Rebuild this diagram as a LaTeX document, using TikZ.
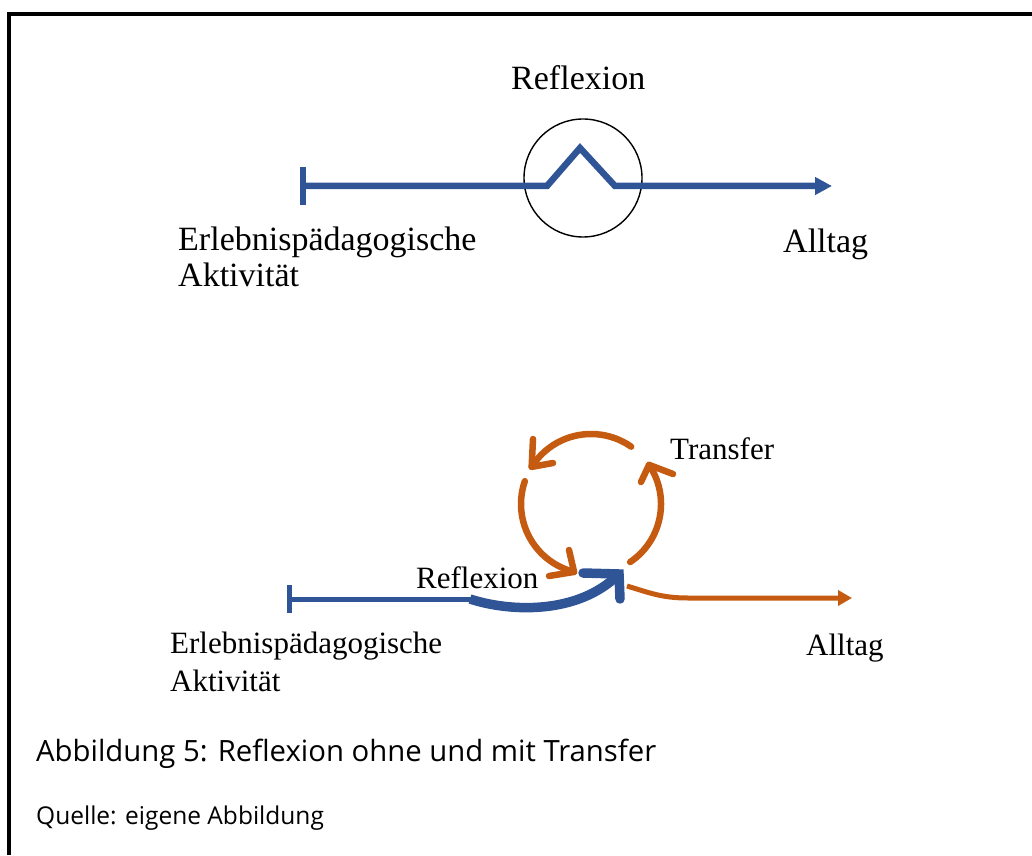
\documentclass[tikz,border=0pt]{standalone}
\usepackage{fontspec}
\setmainfont{Liberation Serif}
\newfontfamily\capfont{Open Sans}
\usetikzlibrary{arrows.meta,calc}
\definecolor{dblue}{RGB}{47,85,151}
\definecolor{dorange}{RGB}{197,90,17}
\begin{document}
\begin{tikzpicture}[x=1pt,y=1pt,
  lbl/.style={inner sep=0pt, anchor=base west, font=\fontsize{34}{40}\selectfont},
  lbls/.style={inner sep=0pt, anchor=base west, font=\fontsize{31}{36}\selectfont},
  bline/.style={draw=dblue, line width=6.5pt},
  bthin/.style={draw=dblue, line width=5pt},
  oarc/.style={draw=dorange, line width=6.5pt, line cap=round},
  ohead/.style={draw=dorange, line width=6.5pt, line cap=round, line join=round},
  bhead/.style={draw=dblue, line width=9.5pt, line cap=round, line join=miter},
  oline/.style={draw=dorange, line width=5pt},
  filltip/.style={-{Triangle[length=17pt,width=17pt]}}]
\useasboundingbox (0,0) rectangle (1032,855);
% frame
\coordinate (fb) at (9.3,0);
\coordinate (fc) at (9.3,841.3);
\coordinate (fr) at (1032,841.3);
\draw[line width=4pt] (fb) -- (fc) -- (fr);

% ---------- top diagram ----------
\coordinate (tb1) at (303,688);
\coordinate (tb2) at (303,650);
\coordinate (t0) at (303,669);
\coordinate (k1) at (547,669);
\coordinate (pk) at (580,707);
\coordinate (k2) at (615,669);
\coordinate (tend) at (832,669);
\node[circle, draw, line width=1.4pt, minimum size=118pt, inner sep=0pt] (ring) at (583,677) {};
\draw[bline] (tb1) -- (tb2);
\draw[bline, filltip] (t0) -- (k1) -- (pk) -- (k2) -- (tend);

\node[lbl] (reftop) at (511,765) {Reflexion};
\node[lbl] (erl1) at (178,604) {Erlebnispädagogische};
\node[lbl] (akt1) at (178,568) {Aktivität};
\node[lbl] (all1) at (783,602) {Alltag};

% ---------- bottom diagram ----------
\coordinate (C) at (591,351);
\coordinate (bb1) at (289,270);
\coordinate (bb2) at (289,242);
\coordinate (b0) at (289,256);
\coordinate (b1) at (478,256);
\coordinate (bc) at (470,256);
\coordinate (btip) at (619,281);
\draw[bthin] (bb1) -- (bb2);
\draw[bthin] (b0) -- (b1);
\draw[draw=dblue, line width=9.5pt]
  (bc) .. controls (510,243) and (578,240) .. (btip);
\coordinate (ba1) at (583,282);
\coordinate (ba2) at (620,256);
\draw[bhead] (ba1) -- (btip) -- (ba2);

% cycle arcs with open arrowheads
\draw[oarc] ($(C)+(55:70)$) arc[start angle=55, end angle=148, radius=70] coordinate (tip1);
\coordinate (h1a) at (533,416);
\coordinate (h1b) at (553,392);
\draw[ohead] (h1a) -- (tip1) -- (h1b);

\draw[oarc] ($(C)+(161:70)$) arc[start angle=161, end angle=256, radius=70] coordinate (tip2);
\coordinate (h2a) at (569,305);
\coordinate (h2b) at (549,279);
\draw[ohead] (h2a) -- (tip2) -- (h2b);

\draw[oarc] ($(C)+(-56:70)$) arc[start angle=-56, end angle=34, radius=70] coordinate (tip3);
\coordinate (h3a) at (641,373);
\coordinate (h3b) at (673,381);
\draw[ohead] (h3a) -- (tip3) -- (h3b);

\coordinate (o0) at (627,269);
\coordinate (o1) at (688,257);
\coordinate (oend) at (852,257);
\draw[oline, -{Triangle[length=14pt,width=15pt]}]
  (o0) .. controls (650,262) and (662,257) .. (o1) -- (oend);

\node[lbls] (transfer) at (670,396) {Transfer};
\node[lbls] (refbot) at (416,267) {Reflexion};
\node[lbls] (erl2) at (170,202) {Erlebnispädagogische};
\node[lbls] (akt2) at (170,164) {Aktivität};
\node[lbls] (all2) at (806,200) {Alltag};

% ---------- caption ----------
\node[inner sep=0pt, anchor=base west, font=\capfont\fontsize{29.3}{34}\selectfont] (cap) at (36,94) {Abbildung 5: Reflexion ohne und mit Transfer};
\node[inner sep=0pt, anchor=base west, font=\capfont\fontsize{24.5}{30}\selectfont] (src) at (36,31) {Quelle: eigene Abbildung};
\end{tikzpicture}
\end{document}
